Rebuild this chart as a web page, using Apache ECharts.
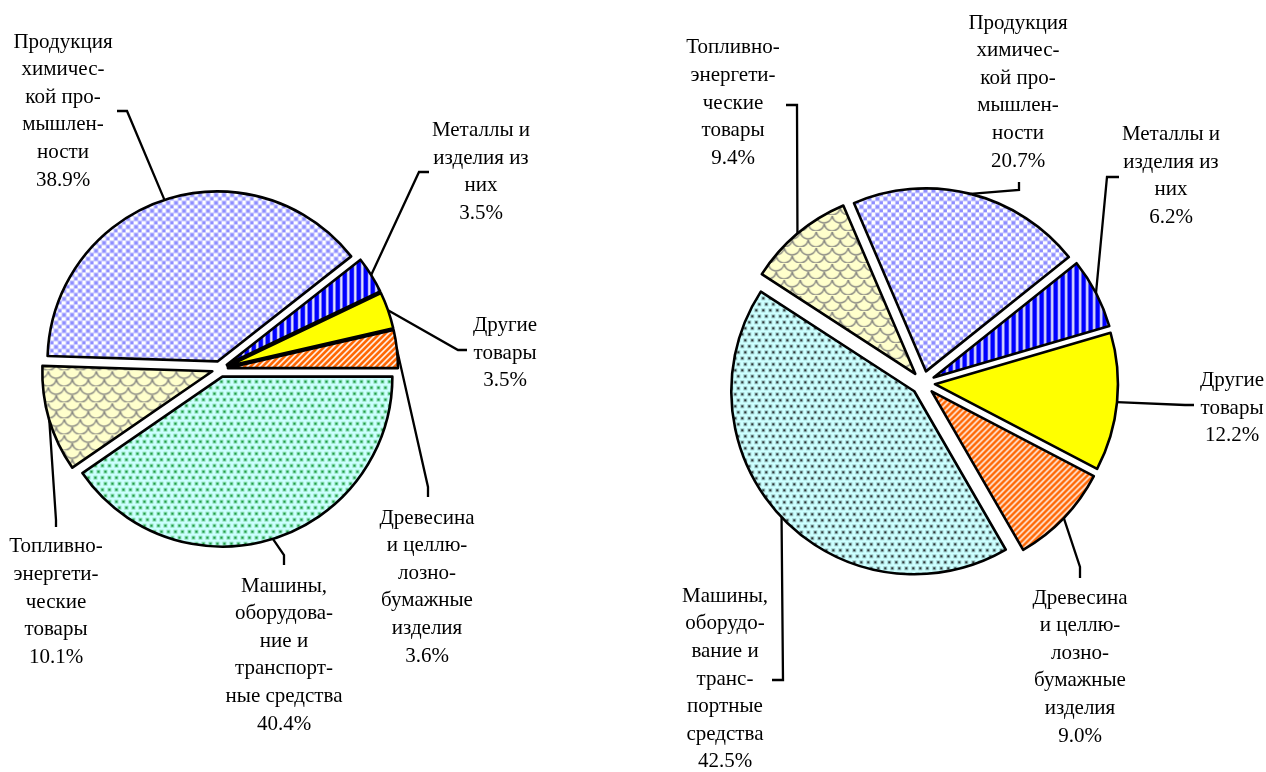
<!DOCTYPE html>
<html>
<head>
<meta charset="utf-8">
<script src="https://cdn.jsdelivr.net/npm/echarts@6/dist/echarts.min.js"></script>
<style>
html, body { margin: 0; padding: 0; background: #fff; }
#container { width: 1266px; height: 772px; }
</style>
</head>
<body>
<div id="container"></div>
<script>
// порядок секторов против часовой стрелки
var categories = [
    'Древесина и целлюлозно-бумажные изделия',
    'Другие товары',
    'Металлы и изделия из них',
    'Продукция химической промышленности',
    'Топливно-энергетические товары',
    'Машины, оборудование и транспортные средства'
];
var leftLabels = [
    'Древесина\nи целлю-\nлозно-\nбумажные\nизделия',
    'Другие\nтовары',
    'Металлы и\nизделия из\nних',
    'Продукция\nхимичес-\nкой про-\nмышлен-\nности',
    'Топливно-\nэнергети-\nческие\nтовары',
    'Машины,\nоборудова-\nние и\nтранспорт-\nные средства'
];
var rightLabels = [
    'Древесина\nи целлю-\nлозно-\nбумажные\nизделия',
    'Другие\nтовары',
    'Металлы и\nизделия из\nних',
    'Продукция\nхимичес-\nкой про-\nмышлен-\nности',
    'Топливно-\nэнергети-\nческие\nтовары',
    'Машины,\nоборудо-\nвание и\nтранс-\nпортные\nсредства'
];
var leftValues = [3.6, 3.5, 3.5, 38.9, 10.1, 40.4];
var rightValues = [9.0, 12.2, 6.2, 20.7, 9.4, 42.5];

// положение подписей и изломов выносок
var leftLayout = [
    {x: 427, y: 587, line: [[428, 487], [428, 497]]},
    {x: 505, y: 353, line: [[458, 350], [467, 350]]},
    {x: 481, y: 172, line: [[419, 172], [429, 172]]},
    {x: 63, y: 111, line: [[127, 111], [117, 111]]},
    {x: 56, y: 602, line: [[56, 520], [56, 527]]},
    {x: 284, y: 655, line: [[284, 555], [284, 565]]}
];
var rightLayout = [
    {x: 1080, y: 667, line: [[1080, 567], [1080, 578]]},
    {x: 1232, y: 408, line: [[1185, 405], [1194, 405]]},
    {x: 1171, y: 176, line: [[1107, 177], [1119, 177]]},
    {x: 1018, y: 92, line: [[1019, 190], [1019, 182]]},
    {x: 733, y: 103, line: [[797, 105], [786, 105]]},
    {x: 725, y: 679, line: [[783, 680], [772, 680]]}
];

function makePattern(w, h, draw) {
    var c = document.createElement('canvas');
    c.width = w; c.height = h;
    var ctx = c.getContext('2d');
    draw(ctx, w, h);
    return {image: c, repeat: 'repeat'};
}

var patLavender = makePattern(8, 8, function(ctx) {
    ctx.fillStyle = '#ffffff'; ctx.fillRect(0, 0, 8, 8);
    ctx.fillStyle = '#c4c4ff';
    ctx.fillRect(0, 0, 5, 5); ctx.fillRect(4, 4, 5, 5);
    ctx.fillStyle = '#8e8eff';
    ctx.fillRect(1, 1, 3, 3); ctx.fillRect(5, 5, 3, 3);
});
function dots(color, halo) {
    return makePattern(7, 12, function(ctx) {
        ctx.fillStyle = '#ccffff'; ctx.fillRect(0, 0, 7, 12);
        ctx.fillStyle = halo;
        ctx.fillRect(0, 0, 4, 4); ctx.fillRect(3, 6, 4, 4);
        ctx.fillStyle = color;
        ctx.fillRect(1, 1, 2, 2); ctx.fillRect(4, 7, 2, 2);
    });
}
var patGreenL = dots('#1f9e4a', '#8fe0b8');
var patGreenR = dots('#303838', '#9cc8c8');
var patBlue = makePattern(7, 4, function(ctx) {
    ctx.fillStyle = '#0000ff'; ctx.fillRect(0, 0, 7, 4);
    ctx.fillStyle = '#b0b0ff'; ctx.fillRect(4, 0, 1, 4);
    ctx.fillStyle = '#f0f0ff'; ctx.fillRect(5, 0, 1, 4);
    ctx.fillStyle = '#9090f0'; ctx.fillRect(6, 0, 1, 4);
});
var patOrange = makePattern(6, 6, function(ctx) {
    var img = ctx.createImageData(6, 6);
    for (var y = 0; y < 6; y++) {
        for (var x = 0; x < 6; x++) {
            var k = (x + y) % 6, i = (y * 6 + x) * 4;
            var g = k === 0 ? 250 : (k === 1 || k === 5 ? 190 : 102);
            var b = k === 0 ? 240 : (k === 1 || k === 5 ? 150 : 0);
            img.data[i] = 255;
            img.data[i + 1] = g;
            img.data[i + 2] = b;
            img.data[i + 3] = 255;
        }
    }
    ctx.putImageData(img, 0, 0);
});
var patBeige = makePattern(16, 16, function(ctx) {
    ctx.fillStyle = '#ffffcc'; ctx.fillRect(0, 0, 16, 16);
    ctx.strokeStyle = '#8a8a84'; ctx.lineWidth = 1.5;
    [[0, 0], [16, 0], [8, 8], [0, 16], [16, 16], [-8, 8], [24, 8]].forEach(function(p) {
        ctx.beginPath();
        ctx.arc(p[0], p[1], 8, 0.15, Math.PI - 0.15);
        ctx.stroke();
    });
});
var leftFills = [patOrange, '#ffff00', patBlue, patLavender, patBeige, patGreenL];
var rightFills = [patOrange, '#ffff00', patBlue, patLavender, patBeige, patGreenR];

// секторы, выдвинутые из центра
function sliceSeries(center, radius, offset, startAngle, values, fills) {
    return {
        type: 'pie',
        center: center,
        radius: radius,
        startAngle: startAngle,
        clockwise: false,
        selectedMode: 'multiple',
        selectedOffset: offset,
        silent: true,
        data: values.map(function(v, i) {
            return {name: categories[i], value: v, selected: true, itemStyle: {color: fills[i]}};
        }),
        itemStyle: {borderColor: '#000', borderWidth: 2.6},
        emphasis: {disabled: true},
        select: {itemStyle: {borderColor: '#000', borderWidth: 2.6}},
        label: {show: false},
        labelLine: {show: false}
    };
}

// прозрачная копия только для подписей и выносок
function labelSeries(center, radius, offset, startAngle, values, labels, layout) {
    return {
        type: 'pie',
        center: center,
        radius: radius,
        startAngle: startAngle,
        clockwise: false,
        avoidLabelOverlap: false,
        silent: true,
        data: values.map(function(v, i) {
            return {name: categories[i], value: v, label: labels[i] + '\n' + v.toFixed(1) + '%'};
        }),
        itemStyle: {color: 'rgba(0,0,0,0)', borderWidth: 0},
        emphasis: {disabled: true},
        label: {
            show: true,
            position: 'outside',
            formatter: function(p) { return p.data.label; },
            fontFamily: 'Liberation Serif',
            fontSize: 21,
            lineHeight: 27.6,
            color: '#000',
            align: 'center'
        },
        labelLine: {show: true, length: 10, length2: 10, lineStyle: {color: '#000', width: 2.3}},
        labelLayout: function(params) {
            var l = layout[params.dataIndex];
            var p = params.labelLinePoints[0];
            var dx = p[0] - center[0], dy = p[1] - center[1];
            var len = Math.sqrt(dx * dx + dy * dy);
            var p0 = [p[0] + offset * dx / len, p[1] + offset * dy / len];
            return {
                x: l.x,
                y: l.y,
                align: 'center',
                verticalAlign: 'middle',
                labelLinePoints: [p0, l.line[0], l.line[1]]
            };
        }
    };
}

var dom = document.getElementById('container');
var myChart = echarts.init(dom);
var option = {
    animation: false,
    backgroundColor: '#fff',
    series: [
        sliceSeries([220, 369], 170, 8, 0, leftValues, leftFills),
        sliceSeries([923, 383], 183, 12, 300, rightValues, rightFills),
        labelSeries([220, 369], 170, 8, 0, leftValues, leftLabels, leftLayout),
        labelSeries([923, 383], 183, 12, 300, rightValues, rightLabels, rightLayout)
    ]
};
myChart.setOption(option, true);
</script>
</body>
</html>
